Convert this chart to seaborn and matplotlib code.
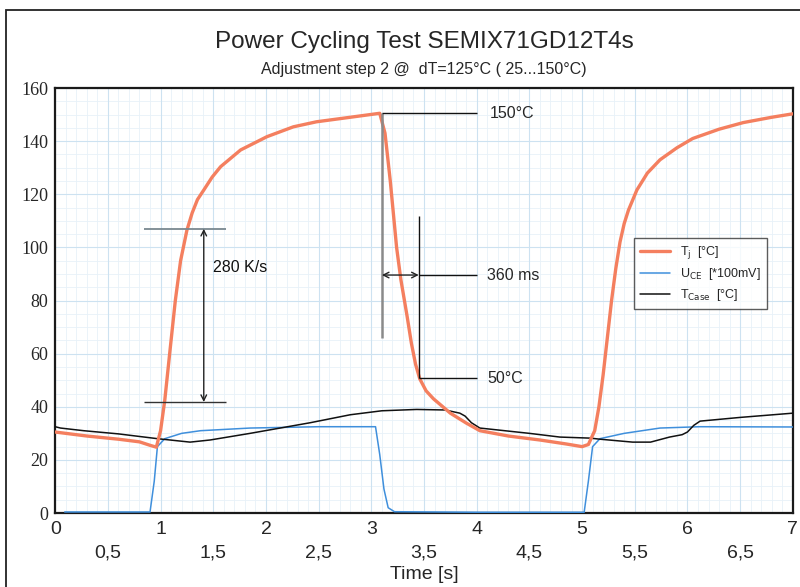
import numpy as np
import pandas as pd
import matplotlib.pyplot as plt
import seaborn as sns
from matplotlib.patches import Rectangle

sns.set_style("white")
plt.rcParams["font.family"] = ["Liberation Sans", "DejaVu Sans"]

# ---------- data ----------
tj_time = [0, 0.3, 0.6, 0.8, 0.9, 0.96, 1.0, 1.04, 1.09, 1.14, 1.19, 1.25,
           1.3, 1.35, 1.41, 1.49, 1.57, 1.76, 2.01, 2.26, 2.48, 2.8, 3.08,
           3.13, 3.18, 3.24, 3.28, 3.34, 3.38, 3.42, 3.46, 3.52, 3.59, 3.75,
           3.9, 4.03, 4.3, 4.6, 4.85, 5.0, 5.06, 5.12, 5.16, 5.2, 5.24, 5.28,
           5.32, 5.36, 5.4, 5.44, 5.52, 5.62, 5.74, 5.9, 6.05, 6.3, 6.53,
           6.8, 7.0]
tj_temp = [30.5, 29, 27.8, 26.8, 25.5, 24.8, 31, 42.5, 61.4, 80, 95, 106.5,
           113, 118, 121.6, 126.5, 130.4, 136.7, 141.7, 145.4, 147.3, 149, 150.5,
           143, 125, 100, 88, 74, 64, 56, 50.5, 46, 43, 37.6,
           33.9, 31, 29, 27.5, 26, 25, 25.8, 31, 40, 52, 66, 80,
           92, 102, 109, 114, 121.6, 128, 133, 137.5, 141, 144.5, 147,
           149, 150.3]

uce_time = [0.09, 0.5, 0.9, 0.94, 0.97, 1.04, 1.2, 1.38, 1.85, 2.5, 3.04,
            3.08, 3.12, 3.16, 3.22, 4.0, 5.02, 5.06, 5.1, 5.17, 5.4, 5.74,
            6.12, 7.0]
uce_val = [0.4, 0.4, 0.4, 12, 25, 28, 30, 31, 32, 32.5, 32.5,
           22, 9, 2, 0.5, 0.3, 0.3, 12, 25, 28, 30, 32,
           32.5, 32.4]

tc_time = [0, 0.05, 0.27, 0.6, 0.97, 1.28, 1.47, 1.85, 2.42, 2.8, 3.1, 3.43,
           3.7, 3.84, 3.89, 3.95, 4.03, 4.5, 4.79, 5.08, 5.17, 5.48, 5.65,
           5.83, 5.95, 6.0, 6.06, 6.12, 6.5, 7.0]
tc_temp = [32.5, 32, 31, 29.8, 28, 26.7, 27.5, 30, 34, 37, 38.5, 39,
           38.8, 37.6, 36.5, 34, 32, 30, 28.6, 28.2, 27.8, 26.7, 26.7,
           28.6, 29.5, 30.5, 33, 34.6, 36, 37.6]

# annotation helpers (values from the picture)
rate_levels = [107, 41.8]      # 280 K/s markers
rate_span = [0.84, 1.62]
rate_x = 1.41
peak_t, peak_val = 3.1, 150.6
end_t, end_val = 3.45, 50.8
ms_level = 89.6
label_t = 4.0

x_major = np.arange(0, 8, 1)
x_half = np.arange(0.5, 7, 1)
half_labels = ["0,5", "1,5", "2,5", "3,5", "4,5", "5,5", "6,5"]
y_ticks = np.arange(0, 161, 20)

tj = pd.DataFrame({"t": tj_time, "v": tj_temp})
uce = pd.DataFrame({"t": uce_time, "v": uce_val})
tc = pd.DataFrame({"t": tc_time, "v": tc_temp})

fig = plt.figure(figsize=(8, 5.87), dpi=100)
ax = fig.add_axes([0.069, 0.126, 0.922, 0.724])

# fine background grid
ax.vlines(np.arange(0, 7, 0.1), 0, 160, color="#e8f1f8", lw=0.6, zorder=0)
ax.hlines(np.arange(0, 160, 5), 0, 7, color="#e8f1f8", lw=0.6, zorder=0)
ax.vlines(np.arange(0, 7.01, 0.5), 0, 160, color="#cde2f1", lw=0.8, zorder=0)
ax.hlines(y_ticks, 0, 7, color="#cde2f1", lw=0.8, zorder=0)

sns.lineplot(data=tj, x="t", y="v", ax=ax, color="#f47f5f", lw=2.4,
             label="T$_{\\rm j}$  [°C]", zorder=4)
sns.lineplot(data=uce, x="t", y="v", ax=ax, color="#3f8fdc", lw=1.1,
             label="U$_{\\rm CE}$  [*100mV]", zorder=3)
sns.lineplot(data=tc, x="t", y="v", ax=ax, color="#111111", lw=1.1,
             label="T$_{\\rm Case}$  [°C]", zorder=3)

# 280 K/s
ax.hlines(rate_levels[0], *rate_span, color="#7a8890", lw=1.3, zorder=5)
ax.hlines(rate_levels[1], *rate_span, color="#333333", lw=1.0, zorder=5)
ax.annotate("", xy=(rate_x, rate_levels[0]), xytext=(rate_x, rate_levels[1]),
            arrowprops=dict(arrowstyle="<->", color="#222222", lw=1.0,
                            shrinkA=0, shrinkB=0), zorder=5)
ax.text(rate_x + 0.09, 92.6, "280 K/s", fontsize=11.5, va="center", color="#111111")

# 150 degC / 360 ms / 50 degC
ax.vlines(peak_t, 66, peak_val, color="#8a8a8a", lw=1.8, zorder=5)
ax.hlines(peak_val, peak_t, label_t, color="#111111", lw=1.0, zorder=5)
ax.text(label_t + 0.12, peak_val, "150°C", fontsize=11.5, va="center")
ax.vlines(end_t, end_val, 112, color="#111111", lw=1.0, zorder=5)
ax.hlines(end_val, end_t, label_t, color="#111111", lw=1.0, zorder=5)
ax.text(label_t + 0.1, end_val, "50°C", fontsize=11.5, va="center")
ax.annotate("", xy=(peak_t, ms_level), xytext=(end_t, ms_level),
            arrowprops=dict(arrowstyle="<->", color="#222222", lw=1.0,
                            shrinkA=0, shrinkB=0), zorder=5)
ax.hlines(ms_level, end_t, label_t, color="#111111", lw=1.0, zorder=5)
ax.text(label_t + 0.1, ms_level, "360 ms", fontsize=11.5, va="center")

ax.set_xlim(0, 7)
ax.set_ylim(0, 160)
ax.set_xticks(x_major)
ax.set_xticklabels([str(v) for v in x_major], fontsize=14)
ax.set_xticks(x_half, minor=True)
ax.set_xticklabels(half_labels, minor=True, fontsize=14)
ax.set_yticks(y_ticks)
ax.set_yticklabels([str(v) for v in y_ticks], fontsize=13,
                   family="Liberation Serif")
ax.tick_params(axis="x", which="major", length=0, pad=6)
ax.tick_params(axis="x", which="minor", length=0, pad=23)
ax.tick_params(axis="y", length=0, pad=5)
ax.set_xlabel("Time [s]", fontsize=14, labelpad=3)
ax.set_ylabel("")
for s in ax.spines.values():
    s.set_color("#1a1a1a")
    s.set_linewidth(1.6)

leg = ax.legend(loc="upper left", bbox_to_anchor=(0.776, 0.662), fontsize=9,
                frameon=True, fancybox=False, handlelength=2.4,
                borderpad=0.5, labelspacing=0.4)
leg.get_frame().set_edgecolor("#333333")
leg.get_frame().set_linewidth(1.0)

fig.text(0.53, 0.928, "Power Cycling Test SEMIX71GD12T4s", ha="center",
         va="center", fontsize=17.5)
fig.text(0.53, 0.881, "Adjustment step 2 @  dT=125°C ( 25...150°C)", ha="center",
         va="center", fontsize=11.5)

fig.add_artist(Rectangle((0.008, -0.01), 1.0, 0.993, transform=fig.transFigure,
                         fill=False, lw=1.3, ec="#222222"))

fig.savefig("out.png", dpi=100)
